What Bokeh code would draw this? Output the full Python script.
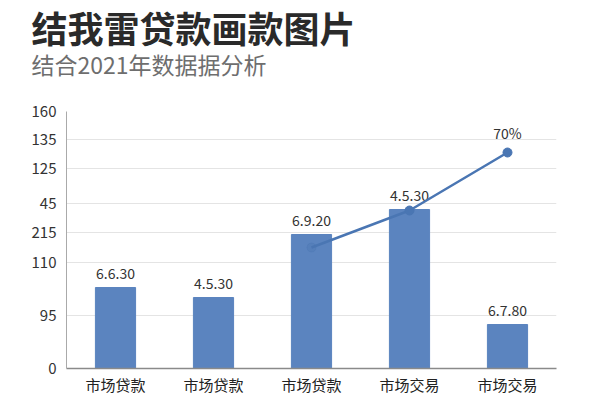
from bokeh.plotting import figure
from bokeh.models import FixedTicker, Title, ColumnDataSource
from bokeh.embed import file_html
from bokeh.resources import INLINE

# data (y in axis units, 0 at the baseline)
categories = ["市场贷款", "市场贷款", "市场贷款", "市场交易", "市场交易"]
bar_values = [81, 71, 134, 159, 44]
bar_labels = ["6.6.30", "4.5.30", "6.9.20", "4.5.30", "6.7.80"]
line_idx = [2, 3, 4]
line_values = [121, 158, 216]
line_label = "70%"
y_tick_pos = [0, 53, 106, 136, 165, 200, 229, 257]
y_tick_labels = ["0", "95", "110", "215", "45", "125", "135", "160"]

FONT = "Noto Sans CJK SC"
BLUE = "#5b84bf"

p = figure(width=584, height=397, x_range=(-0.5, 4.5), y_range=(0, 257),
           output_backend="svg", toolbar_location=None,
           min_border_left=66, min_border_right=28, min_border_bottom=20,
           min_border_top=0)
p.outline_line_color = None

# gap between the plot area and the subtitle
p.add_layout(Title(text=" ", text_font_size="1px", standoff=34.5), "above")
p.add_layout(Title(text="结合2021年数据据分析", text_font=FONT,
                   text_font_size="23px", text_font_style="normal",
                   text_color="#6e6e6e", offset=-35, standoff=-14), "above")
p.add_layout(Title(text="结我雷贷款画款图片", text_font=FONT,
                   text_font_size="36px", text_font_style="bold",
                   text_color="#2a2a2a", offset=-35, standoff=-3), "above")

xs = list(range(len(categories)))
src = ColumnDataSource(dict(x=xs, top=bar_values, label=bar_labels))
p.vbar(x="x", top="top", width=0.41, source=src, color=BLUE)
p.text(x="x", y="top", text="label", source=src, text_align="center",
       text_baseline="bottom", y_offset=-9, text_font_size="14px",
       text_font={"value": FONT}, text_color="#333333")

p.line(line_idx, line_values, line_color="#4a76b3", line_width=2.5)
p.scatter(line_idx, line_values, size=9, color="#4a76b3",
          fill_alpha=[0.35, 1, 1], line_alpha=[0.35, 1, 1])
p.text(x=[line_idx[-1]], y=[line_values[-1]], text=[line_label],
       text_align="center", text_baseline="bottom", y_offset=-10,
       text_font_size="14px", text_font={"value": FONT}, text_color="#333333")

p.xaxis.ticker = FixedTicker(ticks=xs)
p.xaxis.major_label_overrides = {i: c for i, c in enumerate(categories)}
p.xaxis.major_tick_out = 0
p.xaxis.major_tick_in = 0
p.xaxis.minor_tick_line_color = None
p.xaxis.axis_line_color = "#8a8a8a"
p.xaxis.axis_line_width = 1.5
p.xaxis.major_label_standoff = 5
p.xaxis.major_label_text_font = FONT
p.xaxis.major_label_text_font_size = "15px"
p.xaxis.major_label_text_color = "#222222"

p.yaxis.ticker = FixedTicker(ticks=y_tick_pos)
p.yaxis.major_label_overrides = dict(zip(y_tick_pos, y_tick_labels))
p.yaxis.major_tick_out = 0
p.yaxis.major_tick_in = 0
p.yaxis.minor_tick_line_color = None
p.yaxis.axis_line_color = "#aaaaaa"
p.yaxis.major_label_standoff = 10
p.yaxis.major_label_text_font = FONT
p.yaxis.major_label_text_font_size = "15px"
p.yaxis.major_label_text_color = "#333333"

p.xgrid.grid_line_color = None
p.ygrid.ticker = FixedTicker(ticks=y_tick_pos)
p.ygrid.grid_line_color = "#e4e4e4"

open("out.html", "w").write(file_html(p, INLINE))
